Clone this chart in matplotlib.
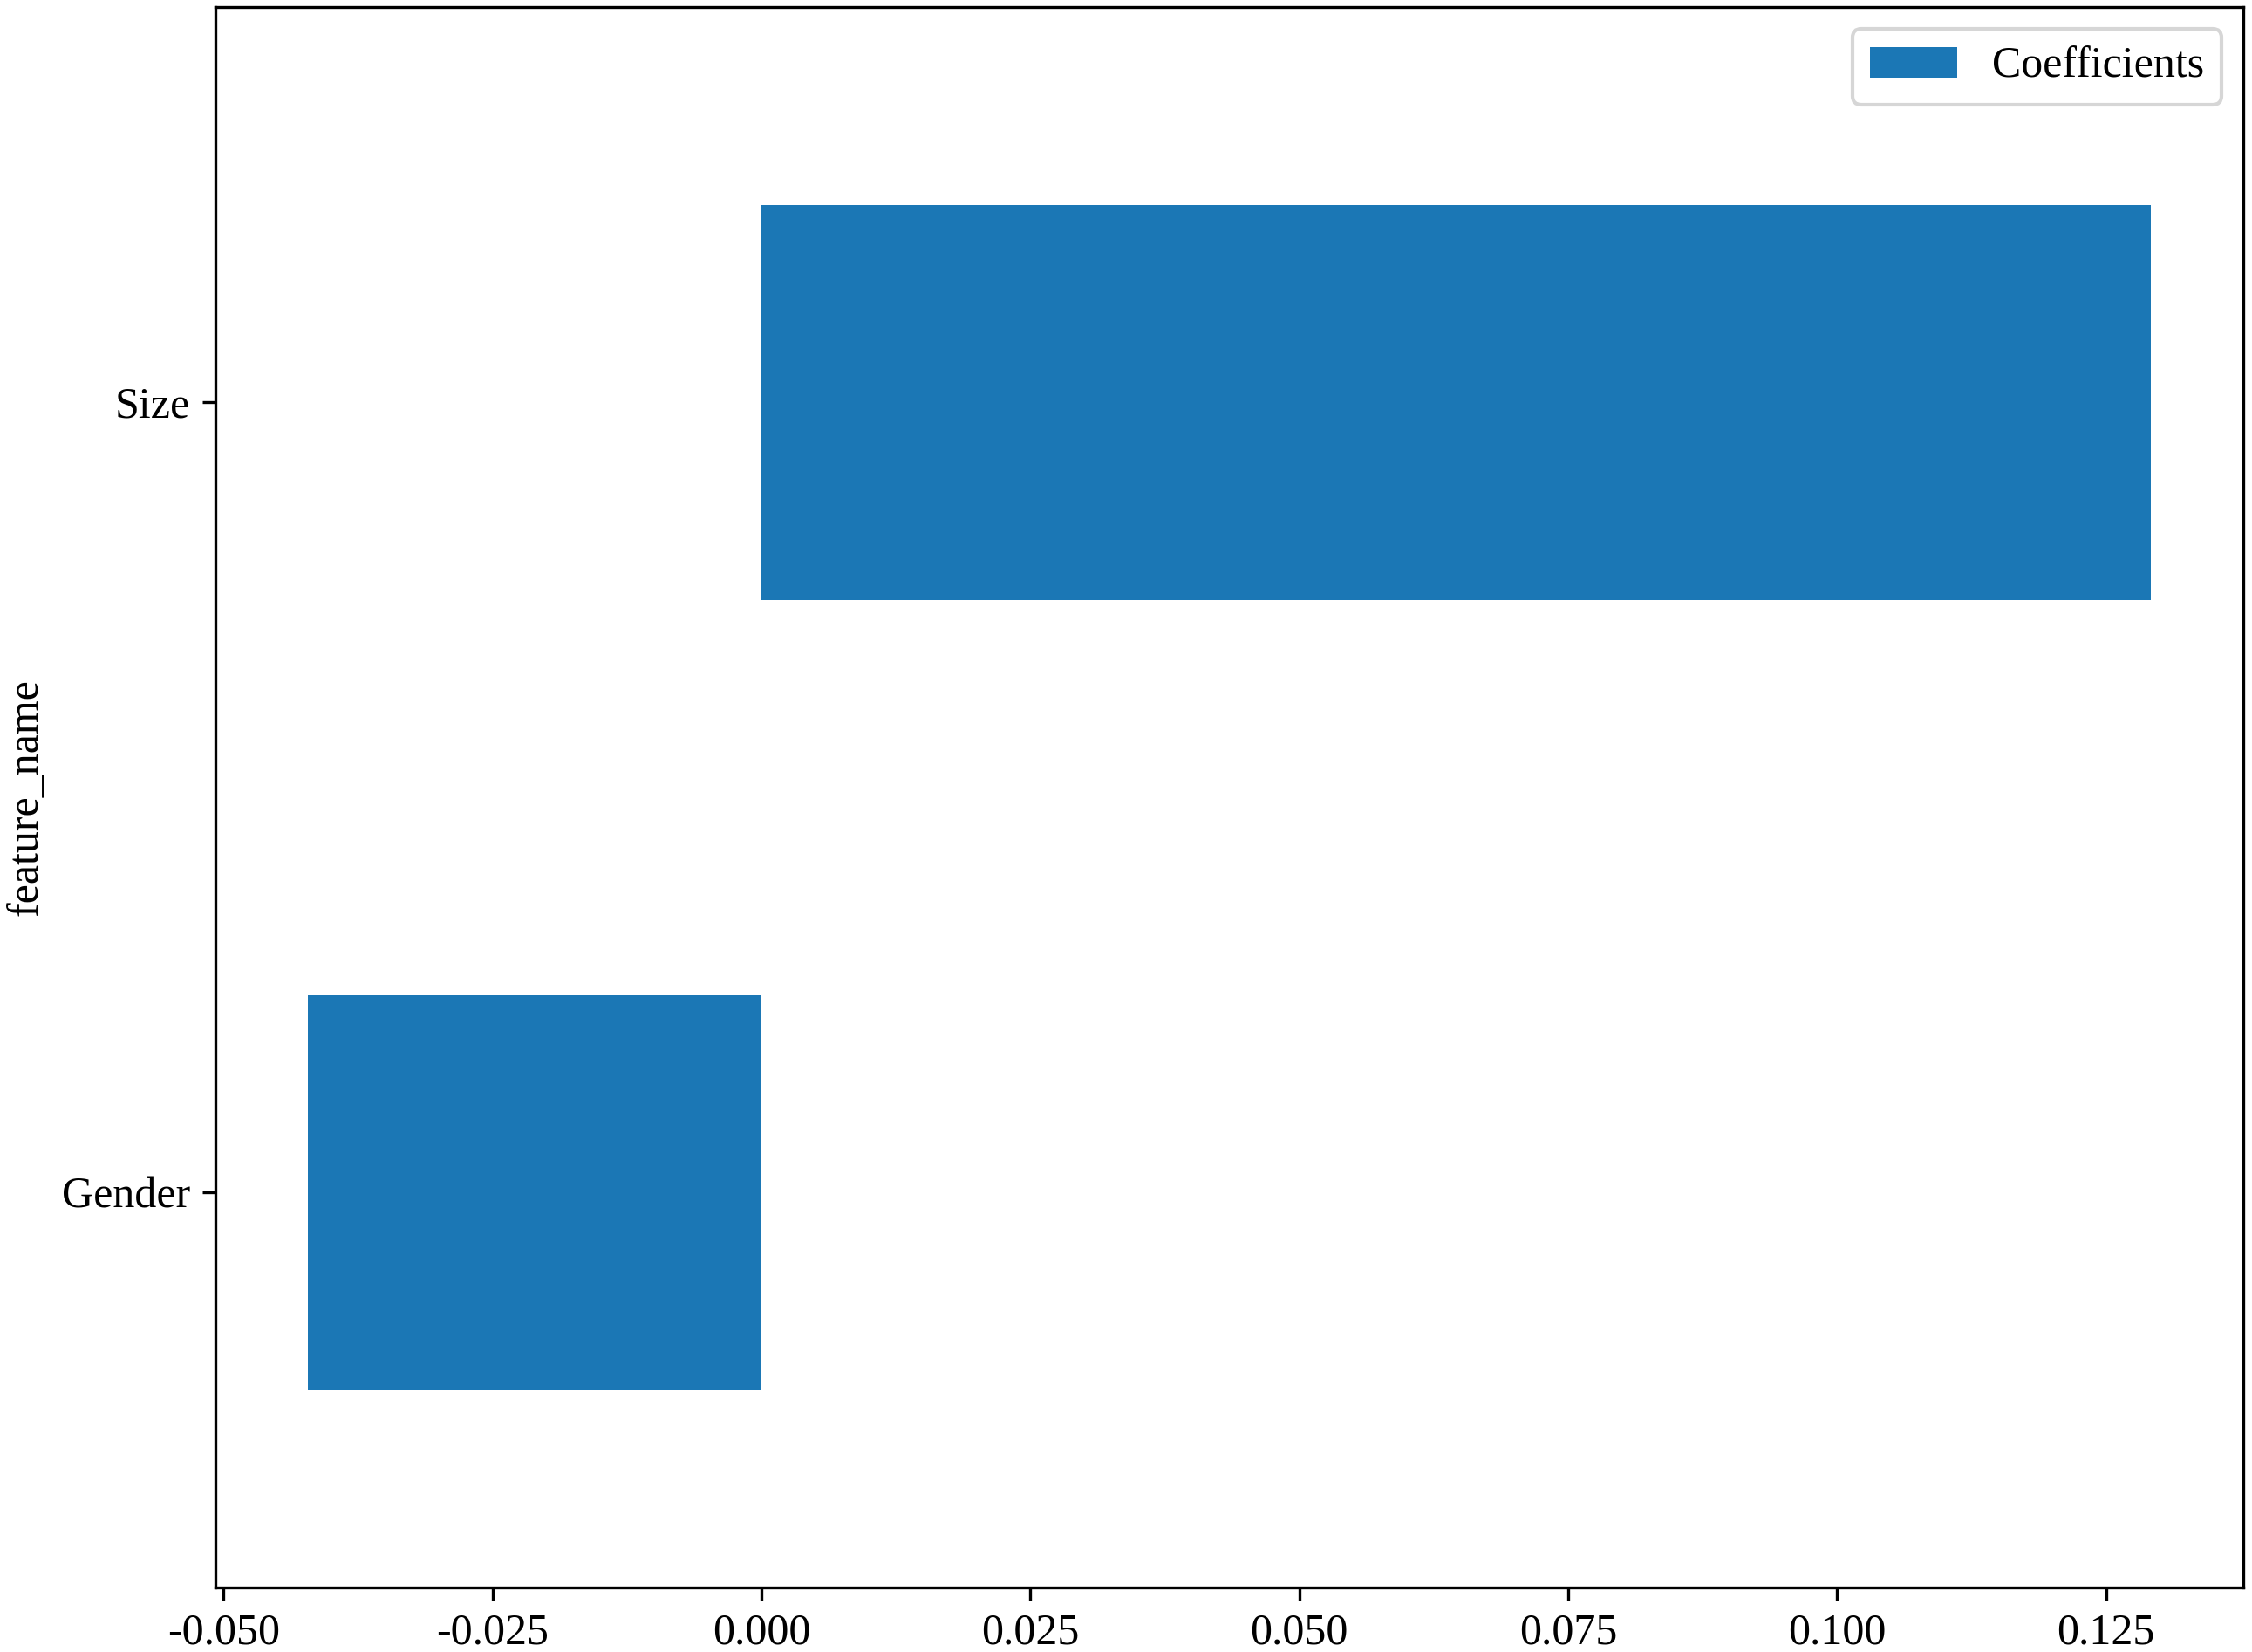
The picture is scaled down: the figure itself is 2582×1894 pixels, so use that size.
import numpy as np
import pandas as pd
from matplotlib import pyplot as plt

plt.rcParams['font.family'] = ['Liberation Serif', 'DejaVu Serif']
plt.rcParams['axes.unicode_minus'] = False

feature_name = ['Gender', 'Size']
coefficients = [-0.0422, 0.1292]

df = pd.DataFrame({'feature_name': feature_name, 'Coefficients': coefficients}).set_index('feature_name')

fig = plt.figure(figsize=(2582 / 300, 1894 / 300), dpi=300)
ax = fig.add_axes([247 / 2582, 1 - 1820 / 1894, (2572 - 247) / 2582, (1820 - 8) / 1894])
df.plot.barh(ax=ax, color='#1b77b5')
ax.tick_params(labelsize=12)
ax.yaxis.label.set_size(12)
ax.legend(loc='upper right', fontsize=12)
fig.savefig('out.png', dpi=300)
